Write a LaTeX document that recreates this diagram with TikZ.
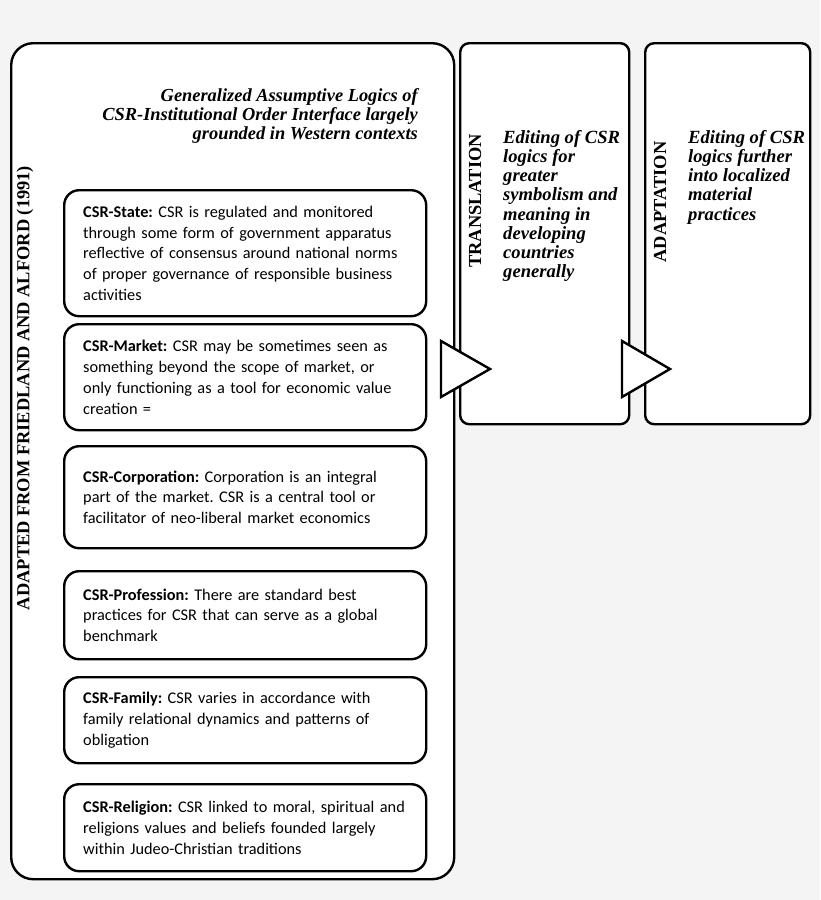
\documentclass[tikz,border=0pt]{standalone}
\usepackage{fontspec}
\setmainfont{Liberation Serif}
\newfontfamily\bodyfnt{Carlito}
\definecolor{bgc}{HTML}{F4F4F4}
\frenchspacing
\tikzset{
  panel/.style={draw=black, line width=2.4pt, fill=white, anchor=north west, inner sep=0pt},
  logicbox/.style={draw=black, line width=2.4pt, fill=white, anchor=north west, rounded corners=15pt,
     minimum width=362pt, text width=324pt, inner xsep=19pt, align=left,
     font=\bodyfnt\fontsize{16.3}{20.8}\selectfont},
  vlabel/.style={rotate=90, font=\bfseries\fontsize{18.4}{19}\selectfont},
  itext/.style={anchor=north west, align=left, inner sep=0pt, font=\bfseries\itshape\fontsize{18.6}{19.2}\selectfont},
  arrowtri/.style={draw=black, line width=2.4pt, fill=white, line join=miter}
}
\hfuzz=20pt
\begin{document}
\begin{tikzpicture}[x=1pt,y=-1pt]
\useasboundingbox (0,0) rectangle (820,900);
\fill[bgc] (0,0) rectangle (820,900);
% outer panel
\node[panel, rounded corners=22pt, minimum width=443pt, minimum height=836pt] (outer) at (10,42) {};
\node[panel, rounded corners=9pt, minimum width=169pt, minimum height=381pt] (trans) at (459,42) {};
\node[panel, rounded corners=9pt, minimum width=165pt, minimum height=381pt] (adapt) at (644,42) {};
% title
\node[anchor=north east, align=right, inner sep=0pt, font=\bfseries\itshape\fontsize{18.4}{19}\selectfont] (title) at (418,88)
  {Generalized Assumptive Logics of\\CSR-Institutional Order Interface largely\\grounded in Western contexts};
% vertical label
\node[vlabel] (src) at (25,388) {ADAPTED FROM FRIEDLAND AND ALFORD (1991)};
% logic boxes
\node[logicbox, minimum height=126pt] (state) at (63,189)
  {\textbf{CSR-State:} CSR is regulated and monitored\\through some form of government apparatus\\reflective of consensus around national norms\\of proper governance of responsible business\\activities};
\node[logicbox, minimum height=106pt] (market) at (63,323)
  {\textbf{CSR-Market:} CSR may be sometimes seen as\\something beyond the scope of market, or\\only functioning as a tool for economic value\\creation =};
\node[logicbox, minimum height=102pt] (corp) at (63,445)
  {\textbf{CSR-Corporation:} Corporation is an integral\\part of the market. CSR is a central tool or\\facilitator of neo-liberal market economics\\[6pt]};
\node[logicbox, minimum height=88pt] (prof) at (63,570)
  {\textbf{CSR-Profession:} There are standard best\\practices for CSR that can serve as a global\\benchmark};
\node[logicbox, minimum height=86pt] (fam) at (63,676)
  {\textbf{CSR-Family:} CSR varies in accordance with\\family relational dynamics and patterns of\\obligation};
\node[logicbox, minimum height=87pt] (rel) at (63,783)
  {\textbf{CSR-Religion:} CSR linked to moral, spiritual and\\religions values and beliefs founded largely\\within Judeo-Christian traditions};
% translation panel texts
\node[vlabel] (tlab) at (475,201) {TRANSLATION};
\node[itext] (ttext) at (503,130) {Editing of CSR\\logics for\\greater\\symbolism and\\meaning in\\developing\\countries\\generally};
\node[vlabel] (alab) at (660,202) {ADAPTATION};
\node[itext] (atext) at (688,130) {Editing of CSR\\logics further\\into localized\\material\\practices};
% arrow triangles
\coordinate (t1a) at (441,341); \coordinate (t1b) at (441,397); \coordinate (t1c) at (490,369);
\coordinate (t2a) at (622,341); \coordinate (t2b) at (622,397); \coordinate (t2c) at (670,369);
\draw[arrowtri] (t1a) -- (t1c) -- (t1b) -- cycle;
\draw[arrowtri] (t2a) -- (t2c) -- (t2b) -- cycle;
\end{tikzpicture}
\end{document}
